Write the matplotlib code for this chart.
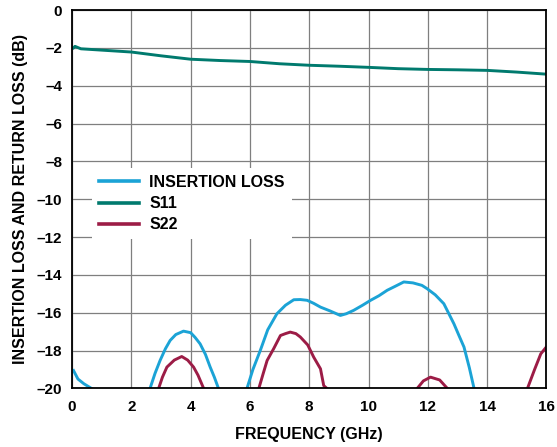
import numpy as np
import matplotlib.pyplot as plt

# ---- data ----
s11_f = [0.05, 0.1, 0.3, 1.0, 2.0, 3.0, 4.0, 5.0, 6.0, 7.0, 8.0, 9.0, 10.0, 11.0, 12.0, 13.0, 14.0, 15.0, 16.0]
s11_db = [-2.0, -1.92, -2.05, -2.12, -2.22, -2.42, -2.6, -2.67, -2.72, -2.84, -2.92, -2.97, -3.03, -3.1, -3.14, -3.16, -3.19, -3.28, -3.39]

# insertion loss, segments above -20 dB
il_segs = [
    ([0.05, 0.2, 0.4, 0.66],
     [-19.05, -19.5, -19.75, -20.0]),
    ([2.63, 2.8, 2.97, 3.15, 3.31, 3.5, 3.76, 4.0, 4.15, 4.32, 4.5, 4.66, 4.8, 4.94],
     [-20.0, -19.2, -18.52, -17.9, -17.46, -17.15, -16.97, -17.05, -17.3, -17.64, -18.2, -18.87, -19.4, -20.0]),
    ([5.9, 6.1, 6.35, 6.6, 6.91, 7.2, 7.48, 7.7, 7.93, 8.15, 8.38, 8.7, 9.05, 9.25, 9.5, 9.8, 10.07, 10.35, 10.63, 10.9, 11.19, 11.5, 11.8, 11.98, 12.25, 12.54, 12.88, 13.05, 13.22, 13.4, 13.56],
     [-20.0, -19.0, -17.99, -16.9, -16.05, -15.6, -15.31, -15.3, -15.34, -15.5, -15.7, -15.9, -16.14, -16.05, -15.87, -15.6, -15.34, -15.1, -14.81, -14.6, -14.37, -14.42, -14.55, -14.73, -15.05, -15.52, -16.58, -17.2, -17.81, -18.9, -20.0]),
]

s22_segs = [
    ([2.92, 3.05, 3.2, 3.45, 3.7, 3.9, 4.1, 4.25, 4.44],
     [-20.0, -19.4, -18.87, -18.5, -18.31, -18.5, -18.87, -19.3, -20.0]),
    ([6.3, 6.45, 6.58, 6.8, 7.03, 7.2, 7.36, 7.55, 7.7, 7.95, 8.15, 8.38, 8.49, 8.6],
     [-20.0, -19.2, -18.52, -17.9, -17.2, -17.1, -17.02, -17.1, -17.28, -17.7, -18.34, -18.96, -19.85, -20.0]),
    ([11.64, 11.85, 12.09, 12.4, 12.66],
     [-20.0, -19.6, -19.4, -19.55, -20.0]),
    ([15.36, 15.6, 15.81, 16.0],
     [-20.0, -19.0, -18.17, -17.8]),
]

xticks = np.arange(0, 17, 2)
yticks = np.arange(-20, 1, 2)

c_il = '#1ba3d6'
c_s11 = '#007a6e'
c_s22 = '#9c1c46'

plt.rcParams['font.family'] = ['Liberation Sans', 'DejaVu Sans']
plt.rcParams['font.weight'] = 'bold'

fig = plt.figure(figsize=(5.57, 4.47), dpi=100)
ax = fig.add_axes([0.1293, 0.1309, 0.8517, 0.8467])

lw = 2.1
for i, (f, v) in enumerate(il_segs):
    ax.plot(f, v, color=c_il, lw=lw, label='INSERTION LOSS' if i == 0 else None)
ax.plot(s11_f, s11_db, color=c_s11, lw=lw, label='S11')
for i, (f, v) in enumerate(s22_segs):
    ax.plot(f, v, color=c_s22, lw=lw, label='S22' if i == 0 else None)

ax.set_xlim(0, 16)
ax.set_ylim(-20, 0)
ax.set_xticks(xticks)
ax.set_xticklabels([str(t) for t in xticks], fontsize=11, fontweight='bold')
ax.set_yticks(yticks)
ax.set_yticklabels([str(t).replace('-', '\u2013') for t in yticks], fontsize=11, fontweight='bold')
ax.tick_params(axis='x', length=0, pad=8.5)
ax.tick_params(axis='y', length=0, pad=7)
ax.grid(True, color='#7f7f7f', lw=0.9)
for sp in ax.spines.values():
    sp.set_linewidth(1.3)
    sp.set_color('black')

ax.set_xlabel('FREQUENCY (GHz)', fontsize=11.5, fontweight='bold', labelpad=9.5)
ax.set_ylabel('INSERTION LOSS AND RETURN LOSS (dB)', fontsize=11.5, fontweight='bold', labelpad=6.5)

leg = ax.legend(loc='upper left', bbox_to_anchor=(0.042, 0.583), borderaxespad=0,
                prop={'size': 11.5, 'weight': 'bold'}, handlelength=2.5, handletextpad=0.63,
                borderpad=0.45, labelspacing=0.38, fancybox=False, framealpha=1)
leg.get_frame().set_edgecolor('none')
for line in leg.get_lines():
    line.set_linewidth(2.6)

plt.savefig('out.png', dpi=100)
